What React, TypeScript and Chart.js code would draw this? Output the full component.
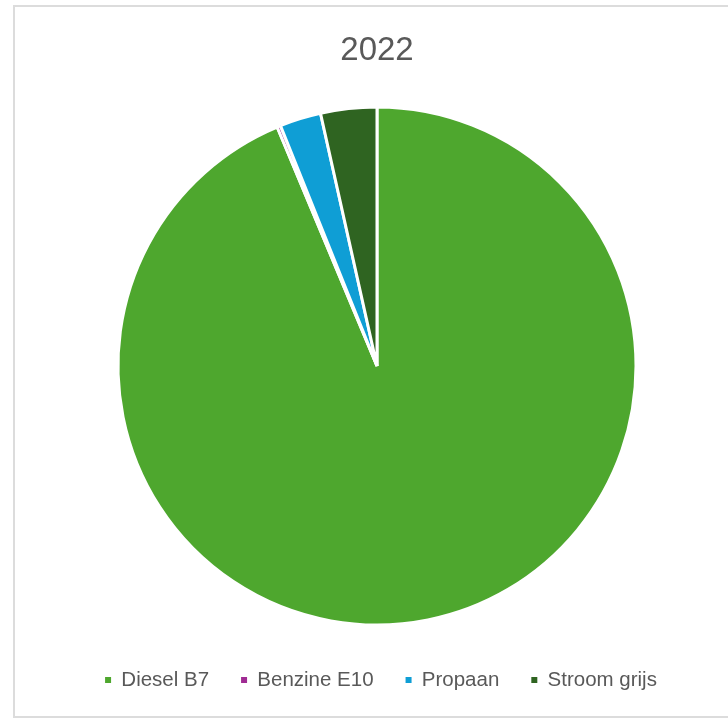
import React, { useEffect, useRef } from "react";
import { Chart, registerables } from "chart.js";

Chart.register(...registerables);

const categories = ["Diesel B7", "Benzine E10", "Propaan", "Stroom grijs"];
const values = [93.7, 0.22, 2.58, 3.5];
const colors = ["#4EA72E", "#A02B93", "#0F9ED5", "#2F6421"];
const titleText = "2022";

const legendShift = {
  id: "legendShift",
  afterLayout(chart: any) {
    if (chart.legend) {
      chart.legend.left += 4;
      chart.legend.right += 4;
    }
  },
};

export default function App() {
  const ref = useRef<HTMLCanvasElement | null>(null);

  useEffect(() => {
    if (!ref.current) return;
    const baseGen = (Chart as any).overrides.pie.plugins.legend.labels.generateLabels;
    const chart = new Chart(ref.current, {
      type: "pie",
      data: {
        labels: categories,
        datasets: [
          {
            data: values,
            backgroundColor: colors,
            borderColor: "#ffffff",
            borderWidth: 3,
            radius: 259,
          },
        ],
      },
      plugins: [legendShift],
      options: {
        responsive: false,
        animation: false,
        layout: { padding: { left: 26, right: 0, top: 0, bottom: 18.75 } },
        plugins: {
          tooltip: { enabled: false },
          title: {
            display: true,
            text: titleText,
            color: "#595959",
            font: { family: "'Liberation Sans', Arial, sans-serif", size: 33, weight: "normal" },
            padding: { top: 31, bottom: 23.65 },
          },
          legend: {
            position: "bottom",
            labels: {
              color: "#595959",
              font: { family: "'Liberation Sans', Arial, sans-serif", size: 20.5 },
              boxWidth: 6,
              boxHeight: 6,
              padding: 32,
              generateLabels: (c: any) =>
                baseGen(c).map((l: any) => ({ ...l, lineWidth: 0, strokeStyle: l.fillStyle })),
            },
          },
        },
      },
    });
    return () => chart.destroy();
  }, []);

  return (
    <div style={{ position: "absolute", left: 0, top: 0, width: 728, height: 719, overflow: "hidden", background: "#fff" }}>
      <div
        style={{
          position: "absolute",
          left: 13,
          top: 5,
          width: 800,
          height: 709,
          border: "2px solid #dcdcdc",
        }}
      />
      <canvas ref={ref} width={728} height={719} style={{ position: "absolute", left: 0, top: 0 }} />
    </div>
  );
}
